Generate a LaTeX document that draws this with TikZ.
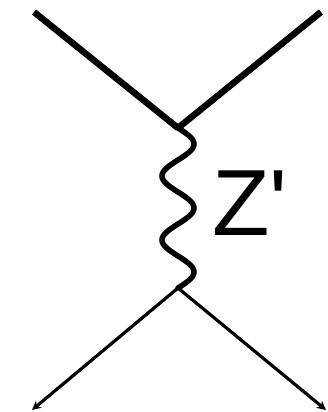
\documentclass[tikz,border=0pt]{standalone}
\usepackage{fontspec}
\newfontfamily\zfont[Ligatures=TeXOff]{Liberation Sans}
\usetikzlibrary{arrows.meta}
\begin{document}
\begin{tikzpicture}[x=1pt,y=-1pt,
  fermion/.style={line width=6.5pt},
  outgoing/.style={line width=3.2pt,-{Stealth[length=9pt,width=9pt]}},
  boson/.style={line width=5.5pt,line cap=round}]
  \useasboundingbox (0,0) rectangle (328,412);
  \coordinate (qin) at (34,12);
  \coordinate (qbarin) at (321,12);
  \coordinate (vtop) at (178,128);
  \coordinate (vbot) at (178,288);
  \coordinate (lout) at (32,410);
  \coordinate (rout) at (326,410);
  % incoming pair
  \draw[fermion] (qin) -- (vtop);
  \draw[fermion] (qbarin) -- (vtop);
  % exchanged boson
  \draw[boson] plot[domain=0:160,samples=121,smooth] ({178+16*sin(\x*5.625)},{128+\x});
  \node[font=\zfont\fontsize{94}{94}\selectfont,inner sep=0pt,anchor=base west] (zlabel) at (212,235) {Z'};
  % outgoing pair
  \draw[outgoing] (vbot) -- (lout);
  \draw[outgoing] (vbot) -- (rout);
\end{tikzpicture}
\end{document}
